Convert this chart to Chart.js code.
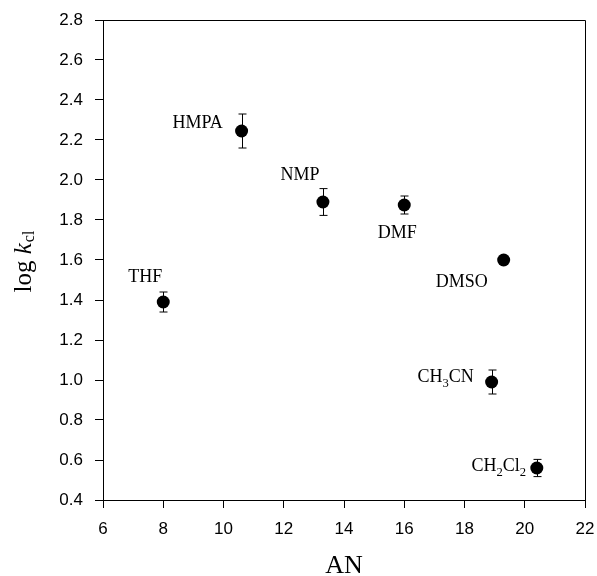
<!DOCTYPE html>
<html>
<head>
<meta charset="utf-8">
<script src="https://cdn.jsdelivr.net/npm/chart.js@4/dist/chart.umd.min.js"></script>
<style>
  html, body { margin: 0; padding: 0; background: #fff; }
  #wrap { width: 597px; height: 576px; }
</style>
</head>
<body>
<div id="wrap"><canvas id="chart" width="597" height="576"></canvas></div>
<script>
// data
const solvents = ['THF', 'HMPA', 'NMP', 'DMF', 'DMSO', 'CH_3CN', 'CH_2Cl_2'];
const acceptorNumber = [8.0, 10.6, 13.3, 16.0, 19.3, 18.9, 20.4];
const logKcl = [1.39, 2.245, 1.89, 1.875, 1.60, 0.99, 0.56];
const logKclErr = [0.05, 0.085, 0.067, 0.045, 0, 0.06, 0.043];
const xTicks = [6, 8, 10, 12, 14, 16, 18, 20, 22];
const yTicks = [0.4, 0.6, 0.8, 1.0, 1.2, 1.4, 1.6, 1.8, 2.0, 2.2, 2.4, 2.6, 2.8];

// where each solvent name sits relative to its point (px)
const labelOffsets = [[-18, -25], [-44, -8], [-23, -27], [-7, 28], [-42, 22], [-46, -5], [-38, -2]];

const serif = '"Liberation Serif", "Times New Roman", serif';
const sans = '"Liberation Sans", Arial, sans-serif';

// draw text like CH_3CN with subscripts
const drawRich = (ctx, str, cx, cy, size) => {
    const parts = [];
    let i = 0;
    while (i < str.length) {
        if (str[i] === '_') {
            parts.push({ t: str[i + 1], sub: true });
            i += 2;
        } else {
            let j = i;
            while (j < str.length && str[j] !== '_') j++;
            parts.push({ t: str.slice(i, j), sub: false });
            i = j;
        }
    }
    let total = 0;
    parts.forEach(p => {
        ctx.font = (p.sub ? size * 0.7 : size) + 'px ' + serif;
        p.w = ctx.measureText(p.t).width;
        total += p.w;
    });
    let x = cx - total / 2;
    ctx.textAlign = 'left';
    ctx.textBaseline = 'middle';
    parts.forEach(p => {
        ctx.font = (p.sub ? size * 0.7 : size) + 'px ' + serif;
        ctx.fillText(p.t, x, p.sub ? cy + size * 0.38 : cy);
        x += p.w;
    });
};

const extras = {
    id: 'extras',
    beforeDatasetsDraw(chart) {
        const { ctx, chartArea: a, scales: { x, y } } = chart;
        ctx.save();
        ctx.strokeStyle = '#000';
        ctx.lineWidth = 1;
        // top and right frame
        ctx.beginPath();
        ctx.moveTo(a.left, a.top + 0.5);
        ctx.lineTo(a.right + 0.5, a.top + 0.5);
        ctx.lineTo(a.right + 0.5, a.bottom);
        ctx.stroke();
        // error bars
        acceptorNumber.forEach((v, i) => {
            if (!logKclErr[i]) return;
            const px = Math.round(x.getPixelForValue(v)) + 0.5;
            const top = y.getPixelForValue(logKcl[i] + logKclErr[i]);
            const bot = y.getPixelForValue(logKcl[i] - logKclErr[i]);
            ctx.beginPath();
            ctx.moveTo(px, top); ctx.lineTo(px, bot);
            ctx.moveTo(px - 4, top); ctx.lineTo(px + 4, top);
            ctx.moveTo(px - 4, bot); ctx.lineTo(px + 4, bot);
            ctx.stroke();
        });
        ctx.restore();
    },
    afterDraw(chart) {
        const { ctx, chartArea: a, scales: { x, y } } = chart;
        ctx.save();
        ctx.fillStyle = '#000';
        solvents.forEach((s, i) => {
            const px = x.getPixelForValue(acceptorNumber[i]) + labelOffsets[i][0];
            const py = y.getPixelForValue(logKcl[i]) + labelOffsets[i][1];
            drawRich(ctx, s, px, py, 18);
        });
        // axis titles
        ctx.font = '26px ' + serif;
        ctx.textAlign = 'center';
        ctx.textBaseline = 'middle';
        ctx.fillText('AN', (a.left + a.right) / 2, 566);

        ctx.translate(24, 262);
        ctx.rotate(-Math.PI / 2);
        ctx.textAlign = 'left';
        ctx.textBaseline = 'middle';
        ctx.font = '25px ' + serif;
        const w1 = ctx.measureText('log ').width;
        ctx.font = 'italic 25px ' + serif;
        const w2 = ctx.measureText('k').width;
        ctx.font = '16px ' + serif;
        const w3 = ctx.measureText('cl').width;
        let sx = -(w1 + w2 + w3) / 2;
        ctx.font = '25px ' + serif;
        ctx.fillText('log ', sx, 0);
        sx += w1;
        ctx.font = 'italic 25px ' + serif;
        ctx.fillText('k', sx, 0);
        sx += w2 + 1;
        ctx.font = '16px ' + serif;
        ctx.fillText('cl', sx, 6);
        ctx.restore();
    }
};

new Chart(document.querySelector('#chart'), {
    type: 'scatter',
    data: {
        datasets: [{
            data: acceptorNumber.map((v, i) => ({ x: v, y: logKcl[i] })),
            pointRadius: 6.5,
            pointHoverRadius: 6.5,
            backgroundColor: '#000',
            borderColor: '#000',
            borderWidth: 0
        }]
    },
    options: {
        responsive: false,
        animation: false,
        layout: { padding: { top: 20, right: 12, left: 0, bottom: 0 } },
        plugins: { legend: { display: false }, tooltip: { enabled: false } },
        scales: {
            x: {
                type: 'linear',
                min: xTicks[0],
                max: xTicks[xTicks.length - 1],
                afterBuildTicks: s => { s.ticks = xTicks.map(v => ({ value: v })); },
                afterFit: s => { s.height = 76; s.paddingLeft = 0; s.paddingRight = 0; },
                grid: { drawOnChartArea: false, drawTicks: true, tickLength: 8, color: '#000' },
                border: { color: '#000', width: 1 },
                ticks: { color: '#000', font: { family: sans, size: 17 }, padding: 11, maxRotation: 0 }
            },
            y: {
                type: 'linear',
                min: yTicks[0],
                max: yTicks[yTicks.length - 1],
                afterBuildTicks: s => { s.ticks = yTicks.map(v => ({ value: v })); },
                afterFit: s => { s.width = 103; s.paddingTop = 0; s.paddingBottom = 0; },
                grid: { drawOnChartArea: false, drawTicks: true, tickLength: 8, color: '#000' },
                border: { color: '#000', width: 1 },
                ticks: {
                    color: '#000', font: { family: sans, size: 17 }, padding: 12,
                    callback: v => v.toFixed(1)
                }
            }
        }
    },
    plugins: [extras]
});
</script>
</body>
</html>
